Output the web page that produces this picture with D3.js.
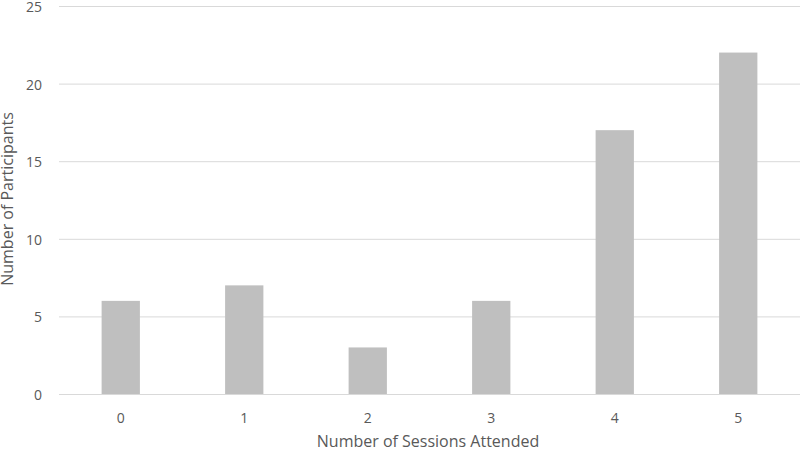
<!DOCTYPE html>
<html>
<head>
<meta charset="utf-8">
<script src="https://cdn.jsdelivr.net/npm/d3@7/dist/d3.min.js"></script>
<style>
  body { margin: 0; background: #fff; }
  text { font-family: "Open Sans", "Liberation Sans", sans-serif; fill: #595959; }
</style>
</head>
<body>
<script>
var sessions = ["0", "1", "2", "3", "4", "5"];
var participants = [6, 7, 3, 6, 17, 22];
var yTicks = [0, 5, 10, 15, 20, 25];

var width = 800, height = 452;
var plotLeft = 59, plotRight = 800, plotTop = 6, plotBottom = 394;

var svg = d3.select("body").append("svg")
    .attr("width", width)
    .attr("height", height);

var x = d3.scaleBand()
    .domain(sessions)
    .range([plotLeft, plotRight])
    .paddingInner(0.69)
    .paddingOuter(0.345);

var y = d3.scaleLinear()
    .domain([0, 25])
    .range([plotBottom, plotTop]);

// gridlines
svg.selectAll(".grid")
    .data(yTicks)
    .enter()
    .append("line")
    .attr("x1", plotLeft)
    .attr("x2", plotRight)
    .attr("y1", function (d) { return y(d) + 0.5; })
    .attr("y2", function (d) { return y(d) + 0.5; })
    .style("stroke", "#d9d9d9")
    .style("stroke-width", 1);

// bars
svg.selectAll(".bar")
    .data(participants)
    .enter()
    .append("rect")
    .attr("x", function (d, i) { return x(sessions[i]); })
    .attr("y", function (d) { return y(d); })
    .attr("width", x.bandwidth())
    .attr("height", function (d) { return plotBottom - y(d); })
    .style("fill", "#bfbfbf");

// y tick labels
svg.selectAll(".ytick")
    .data(yTicks)
    .enter()
    .append("text")
    .attr("x", 42)
    .attr("y", function (d) { return y(d) + 1; })
    .attr("dy", "0.35em")
    .attr("text-anchor", "end")
    .style("font-size", "14px")
    .text(function (d) { return d; });

// x tick labels
svg.selectAll(".xtick")
    .data(sessions)
    .enter()
    .append("text")
    .attr("x", function (d) { return x(d) + x.bandwidth() / 2; })
    .attr("y", 418)
    .attr("dy", "0.35em")
    .attr("text-anchor", "middle")
    .style("font-size", "14px")
    .text(function (d) { return d; });

// axis titles
svg.append("text")
    .attr("x", 428)
    .attr("y", 447)
    .attr("text-anchor", "middle")
    .style("font-size", "16px")
    .text("Number of Sessions Attended");

svg.append("text")
    .attr("transform", "translate(13,199) rotate(-90)")
    .attr("text-anchor", "middle")
    .style("font-size", "16px")
    .text("Number of Participants");
</script>
</body>
</html>
